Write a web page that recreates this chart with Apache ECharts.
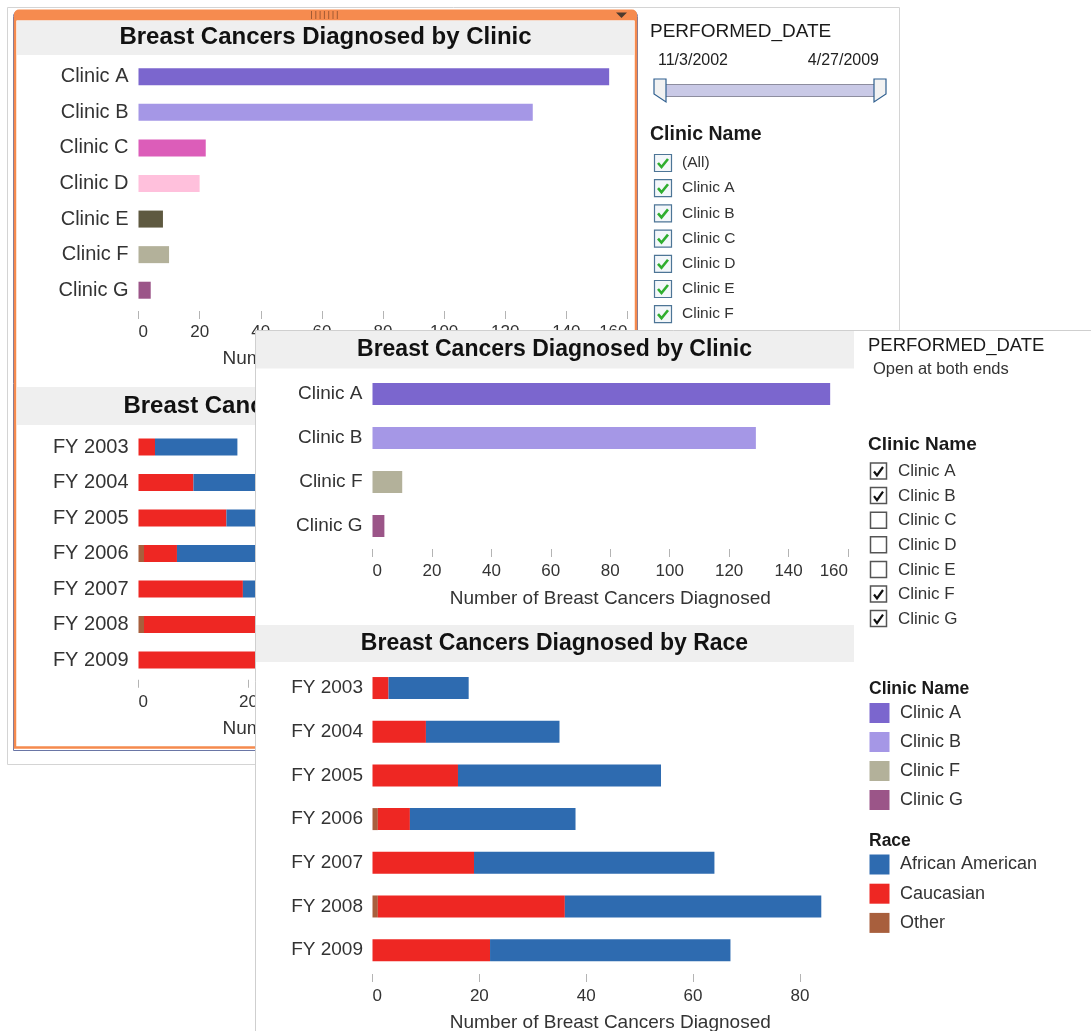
<!DOCTYPE html>
<html>
<head>
<meta charset="utf-8">
<script src="https://cdn.jsdelivr.net/npm/echarts@6/dist/echarts.min.js"></script>
<style>
  html, body { margin: 0; padding: 0; background: #fff; }
  #chart { width: 1091px; height: 1031px; }
</style>
</head>
<body>
<div id="chart"></div>
<script>
// ---------------- DATA ----------------
const clinicCategories = ['Clinic A', 'Clinic B', 'Clinic C', 'Clinic D', 'Clinic E', 'Clinic F', 'Clinic G'];
const clinicCounts = [154, 129, 22, 20, 8, 10, 4];
const selectedClinics = ['Clinic A', 'Clinic B', 'Clinic F', 'Clinic G'];
const fiscalYears = ['FY 2003', 'FY 2004', 'FY 2005', 'FY 2006', 'FY 2007', 'FY 2008', 'FY 2009'];
const raceOther = [0, 0, 0, 1, 0, 1, 0];
const raceCaucasian = [3, 10, 16, 6, 19, 35, 22];
const raceAfricanAmerican = [15, 25, 38, 31, 45, 48, 45];
const raceNames = ['African American', 'Caucasian', 'Other'];
const clinicAxisTicks = [0, 20, 40, 60, 80, 100, 120, 140, 160];
const raceAxisTicks = [0, 20, 40, 60, 80];
const dateRange = ['11/3/2002', '4/27/2009'];
const backFilterItems = ['(All)', 'Clinic A', 'Clinic B', 'Clinic C', 'Clinic D', 'Clinic E', 'Clinic F'];
const axisTitle = 'Number of Breast Cancers Diagnosed';
const clinicTitle = 'Breast Cancers Diagnosed by Clinic';
const raceTitle = 'Breast Cancers Diagnosed by Race';

// ---------------- STYLES ----------------
const FONT = "'Liberation Sans', Arial, sans-serif";
const clinicColors = {
  'Clinic A': '#7b66ce', 'Clinic B': '#a597e6', 'Clinic C': '#dc5db9', 'Clinic D': '#ffc0dc',
  'Clinic E': '#5e5940', 'Clinic F': '#b3b19a', 'Clinic G': '#9b5588'
};
const raceColors = { 'African American': '#2e6bb0', 'Caucasian': '#ee2723', 'Other': '#a85f3d' };

const frontClinicCounts = selectedClinics.map(c => clinicCounts[clinicCategories.indexOf(c)]);

// ---------------- HELPERS ----------------
function txt(x, y, text, size, o) {
  o = o || {};
  return {
    type: 'text', x: x, y: y, zlevel: o.zlevel || 0, z: o.z != null ? o.z : 10, silent: true,
    style: {
      text: text, fontSize: size, fontFamily: FONT, fontWeight: o.bold ? 'bold' : 'normal',
      fill: o.color || '#333', align: o.align || 'left', verticalAlign: 'middle'
    }
  };
}
function rect(x, y, w, h, style, zl, z, r) {
  return { type: 'rect', zlevel: zl || 0, z: z != null ? z : 1, silent: true,
    shape: { x: x, y: y, width: w, height: h, r: r || 0 }, style: style };
}
function poly(points, style, zl, z, closed) {
  return { type: closed ? 'polygon' : 'polyline', zlevel: zl || 0, z: z != null ? z : 5, silent: true,
    shape: { points: points }, style: style };
}

function valueAxis(gi, max, ticks, zl, o) {
  return {
    type: 'value', gridIndex: gi, min: 0, max: max, zlevel: zl, z: 6,
    offset: o.offset,
    splitLine: { show: false },
    axisLine: { show: false },
    axisTick: { show: true, length: 8, customValues: ticks, lineStyle: { color: '#b4b4b4', width: 1 } },
    axisLabel: { customValues: ticks, fontSize: o.labelSize, fontFamily: FONT, color: '#333',
      margin: o.margin, alignMinLabel: 'left', alignMaxLabel: o.alignMax || 'center' },
    name: axisTitle, nameLocation: 'middle', nameGap: o.nameGap,
    nameTextStyle: { fontSize: 19, fontFamily: FONT, color: '#333' }
  };
}
function catAxis(gi, cats, zl, size, margin) {
  return {
    type: 'category', gridIndex: gi, data: cats, inverse: true, zlevel: zl, z: 6,
    axisLine: { show: false }, axisTick: { show: false }, splitLine: { show: false },
    axisLabel: { fontSize: size, fontFamily: FONT, color: '#333', margin: margin }
  };
}

// ---------------- GRAPHICS ----------------
const g = [];
// ---- back dashboard ----
g.push(rect(7.5, 7.5, 892, 757, { fill: '#fff', stroke: '#d4d4d4', lineWidth: 1 }, 0, -5));
g.push(rect(13.5, 10.5, 624, 740, { fill: 'none', stroke: '#6a76a6', lineWidth: 1 }, 0, -4, [6, 6, 0, 0]));
g.push(rect(15, 11.5, 621, 736, { fill: '#fff', stroke: '#f58a4e', lineWidth: 2.5 }, 0, -3, [5, 5, 0, 0]));
g.push(rect(14, 9.5, 623, 11, { fill: '#f68b4f' }, 0, -2, [5, 5, 0, 0]));
for (let i = 0; i < 7; i++) {
  g.push(poly([[311.5 + i * 4.3, 11], [311.5 + i * 4.3, 19]], { stroke: '#a35a33', lineWidth: 1 }, 0, 3));
}
g.push(poly([[616, 12.5], [627, 12.5], [621.5, 18]], { fill: '#4d3a2e' }, 0, 3, true));
// title bands
g.push(rect(17, 20.5, 617, 34.5, { fill: '#efefef' }, 0, 0));
g.push(txt(325.5, 37, clinicTitle, 24, { bold: true, color: '#111', align: 'center' }));
g.push(rect(17, 387, 617, 38, { fill: '#efefef' }, 0, 0));
g.push(txt(325.5, 406, raceTitle, 24, { bold: true, color: '#111', align: 'center' }));
// back side panel
g.push(txt(650, 32, 'PERFORMED_DATE', 19, { color: '#1a1a1a' }));
g.push(txt(658, 61, dateRange[0], 16, { color: '#222' }));
g.push(txt(879, 61, dateRange[1], 16, { color: '#222', align: 'right' }));
g.push(rect(665, 84.5, 210, 12, { fill: '#c9c9e6', stroke: '#8d8d9e', lineWidth: 1 }, 0, 2));
g.push(poly([[654, 79], [666, 79], [666, 102], [654, 94]], { fill: '#f2f2f2', stroke: '#2f5f8f', lineWidth: 1.2 }, 0, 4, true));
g.push(poly([[874, 79], [886, 79], [886, 94], [874, 102]], { fill: '#f2f2f2', stroke: '#2f5f8f', lineWidth: 1.2 }, 0, 4, true));
g.push(txt(650, 134.5, 'Clinic Name', 19.5, { bold: true, color: '#1a1a1a' }));
backFilterItems.forEach((name, i) => {
  const cy = 163 + i * 25.2;
  g.push(rect(654.5, cy - 8.5, 17, 17, { fill: '#f3f7fa', stroke: '#4d7596', lineWidth: 1.2 }, 0, 3));
  g.push(poly([[658, cy], [661.5, cy + 4], [668, cy - 4]], { stroke: '#2fae2f', lineWidth: 2.6, fill: 'none' }, 0, 4));
  g.push(txt(682, cy, name, 15.5, { color: '#333' }));
});

// ---- front dashboard (zlevel 1) ----
g.push(rect(255.5, 330.5, 840, 710, { fill: '#fff', stroke: '#cfcfcf', lineWidth: 1 }, 1, -5));
g.push(rect(256, 331, 598, 37.5, { fill: '#efefef' }, 1, 0));
g.push(txt(554.5, 350, clinicTitle, 23, { bold: true, color: '#111', align: 'center', zlevel: 1 }));
g.push(rect(256, 625, 598, 37, { fill: '#efefef' }, 1, 0));
g.push(txt(554.5, 643.5, raceTitle, 23, { bold: true, color: '#111', align: 'center', zlevel: 1 }));
g.push(txt(868, 346, 'PERFORMED_DATE', 18.5, { color: '#1a1a1a', zlevel: 1 }));
g.push(txt(873, 369, 'Open at both ends', 16.5, { color: '#333', zlevel: 1 }));
g.push(txt(868, 445, 'Clinic Name', 19, { bold: true, color: '#1a1a1a', zlevel: 1 }));
clinicCategories.forEach((name, i) => {
  const cy = 471.5 + i * 24.6;
  g.push(rect(870.5, cy - 8.5, 16, 16, { fill: '#fff', stroke: '#555', lineWidth: 1.5 }, 1, 3));
  if (selectedClinics.indexOf(name) >= 0) {
    g.push(poly([[874, cy], [877, cy + 4], [883, cy - 4.5]], { stroke: '#111', lineWidth: 2.2, fill: 'none' }, 1, 4));
  }
  g.push(txt(898, cy, name, 17, { color: '#333', zlevel: 1 }));
});
// legends
g.push(txt(869, 689, 'Clinic Name', 17.5, { bold: true, color: '#1a1a1a', zlevel: 1 }));
selectedClinics.forEach((name, i) => {
  const cy = 713 + i * 29;
  g.push(rect(869.5, cy - 10, 20, 20, { fill: clinicColors[name] }, 1, 3));
  g.push(txt(900, cy, name, 18, { color: '#333', zlevel: 1 }));
});
g.push(txt(869, 841, 'Race', 17.5, { bold: true, color: '#1a1a1a', zlevel: 1 }));
raceNames.forEach((name, i) => {
  const cy = 864.5 + i * 29.2;
  g.push(rect(869.5, cy - 10, 20, 20, { fill: raceColors[name] }, 1, 3));
  g.push(txt(900, cy, name, 18, { color: '#333', zlevel: 1 }));
});

// ---------------- OPTION ----------------
function raceSeries(xi, yi, zl, bw) {
  const list = [['Other', raceOther], ['Caucasian', raceCaucasian], ['African American', raceAfricanAmerican]];
  return list.map(([n, d]) => ({
    type: 'bar', name: n, stack: 'race' + xi, xAxisIndex: xi, yAxisIndex: yi, zlevel: zl, z: 4,
    barWidth: bw, data: d, itemStyle: { color: raceColors[n] }, silent: true, animation: false
  }));
}

const option = {
  animation: false,
  backgroundColor: '#fff',
  grid: [
    { left: 138.5, top: 59, width: 489, height: 249, outerBoundsMode: 'none' },
    { left: 138.5, top: 429.25, width: 489, height: 248.5, outerBoundsMode: 'none' },
    { left: 372.5, top: 372, width: 475.5, height: 176, outerBoundsMode: 'none', zlevel: 1 },
    { left: 372.5, top: 666.2, width: 475.5, height: 305.8, outerBoundsMode: 'none', zlevel: 1 }
  ],
  xAxis: [
    valueAxis(0, 160, clinicAxisTicks, 0, { offset: 3, labelSize: 17, margin: 13, nameGap: 38, alignMax: 'right' }),
    valueAxis(1, 89, raceAxisTicks, 0, { offset: 2, labelSize: 17, margin: 14, nameGap: 40 }),
    valueAxis(2, 160, clinicAxisTicks, 1, { offset: 1, labelSize: 17, margin: 14, nameGap: 40, alignMax: 'right' }),
    valueAxis(3, 89, raceAxisTicks, 1, { offset: 2, labelSize: 17, margin: 14, nameGap: 39 })
  ],
  yAxis: [
    catAxis(0, clinicCategories, 0, 20, 10),
    catAxis(1, fiscalYears, 0, 20, 10),
    catAxis(2, selectedClinics, 1, 19, 10),
    catAxis(3, fiscalYears, 1, 19, 9.5)
  ],
  series: [
    { type: 'bar', xAxisIndex: 0, yAxisIndex: 0, zlevel: 0, z: 4, barWidth: 17, silent: true,
      data: clinicCounts.map((v, i) => ({ value: v, itemStyle: { color: clinicColors[clinicCategories[i]] } })) },
    ...raceSeries(1, 1, 0, 17),
    { type: 'bar', xAxisIndex: 2, yAxisIndex: 2, zlevel: 1, z: 4, barWidth: 22, silent: true,
      data: frontClinicCounts.map((v, i) => ({ value: v, itemStyle: { color: clinicColors[selectedClinics[i]] } })) },
    ...raceSeries(3, 3, 1, 22)
  ],
  graphic: { elements: g }
};

const chart = echarts.init(document.getElementById('chart'), null, { renderer: 'canvas' });
chart.setOption(option);
</script>
</body>
</html>
